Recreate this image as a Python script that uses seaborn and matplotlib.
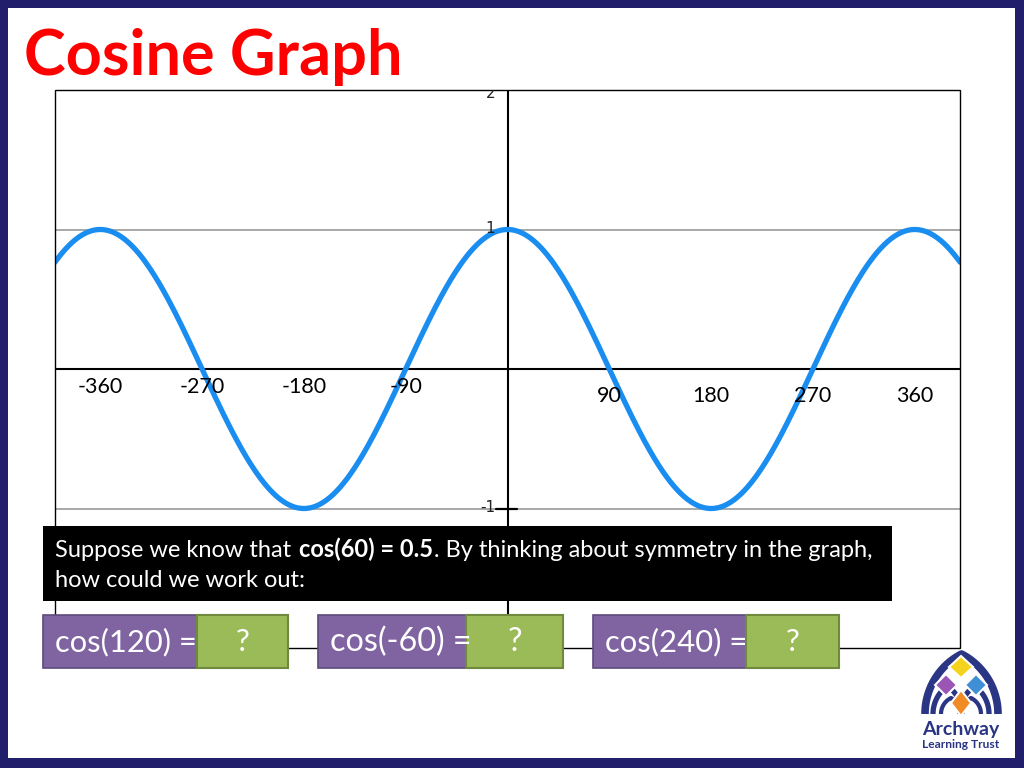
import numpy as np
import pandas as pd
import seaborn as sns
import matplotlib.pyplot as plt
from matplotlib.patches import Rectangle, Polygon

sns.set_theme(style="white")
plt.rcParams['font.family'] = ['Lato', 'DejaVu Sans']

# ---------------- data ----------------
angles = np.arange(-400, 401, 1)            # degrees
cos_values = np.cos(np.radians(angles))    # the cosine curve being graphed
neg_ticks = [-360, -270, -180, -90]
pos_ticks = [90, 180, 270, 360]
y_labels = [2, 1, -1]
title_text = "Cosine Graph"
prompt_plain = "Suppose we know that "
prompt_bold = "cos(60) = 0.5"
prompt_rest = ". By thinking about symmetry in the graph,"
prompt_line2 = "how could we work out:"
questions = ["cos(120) =", "cos(-60) =", "cos(240) ="]
answers = ["?", "?", "?"]

df = pd.DataFrame({"angle": angles, "cos": cos_values})

NAVY = "#211f6b"
W, H = 1024, 768
fig = plt.figure(figsize=(10.24, 7.68), dpi=100, facecolor=NAVY)

# background (white slide inside navy border)
bg = fig.add_axes([0, 0, 1, 1], zorder=0)
bg.set_xlim(0, W); bg.set_ylim(H, 0); bg.axis("off")
bg.add_patch(Rectangle((8, 8), 1007, 750, facecolor="white", edgecolor="none"))

# ---------------- main chart ----------------
L, R, T, B = 55, 960, 90, 648
ax = fig.add_axes([L / W, (H - B) / H, (R - L) / W, (B - T) / H], zorder=1)
ax.set_facecolor("white")
ax.set_xlim(-400, 400)
ax.set_ylim(-2, 2)
for s in ax.spines.values():
    s.set_visible(False)
ax.add_patch(Rectangle((0, 0), 1, 1, transform=ax.transAxes, fill=False,
                       edgecolor="black", lw=1.0, zorder=5, clip_on=False))
ax.set_xticks([]); ax.set_yticks([])

for yv in (1, -1):
    ax.axhline(yv, color="#a8a8a8", lw=1.4, zorder=1)
ax.axhline(0, color="black", lw=1.5, zorder=2)
ax.axvline(0, color="black", lw=1.5, zorder=2)
# small tick at y = -1
ax.plot([-10, 8], [-1, -1], color="black", lw=1.6, zorder=2)

sns.lineplot(data=df, x="angle", y="cos", ax=ax, color="#1a8df0", lw=3.8,
             zorder=4, legend=False)
ax.set_xlabel(""); ax.set_ylabel("")

for t in neg_ticks:
    ax.text(t, -0.13, str(t), ha="center", va="center", fontsize=15.5,
            color="black", zorder=6)
for t in pos_ticks:
    ax.text(t, -0.19, str(t), ha="center", va="center", fontsize=15.5,
            color="black", zorder=6)
for yv in y_labels:
    yy = yv - 0.025 if yv == 2 else yv + 0.01
    ax.text(-11, yy, str(yv), ha="right", va="center", fontsize=11,
            color="#222222", family="DejaVu Sans", clip_on=True, zorder=6)

# ---------------- overlay ----------------
ov = fig.add_axes([0, 0, 1, 1], zorder=3)
ov.set_xlim(0, W); ov.set_ylim(H, 0); ov.axis("off")
ov.patch.set_alpha(0)

renderer = fig.canvas.get_renderer()


def width_of(t):
    return t.get_window_extent(renderer).width


def fit(t, target):
    for _ in range(2):
        t.set_fontsize(t.get_fontsize() * target / width_of(t))


title = ov.text(24, 75, title_text, color="#ff0000", fontsize=40,
                weight="bold", ha="left", va="baseline")
fit(title, 378)

# black prompt box
ov.add_patch(Rectangle((43, 526), 849, 75, facecolor="black", edgecolor="none"))
fs = 14.0
for _ in range(3):
    pieces = []
    x = 55
    for txt, wt in ((prompt_plain, "normal"), (prompt_bold, "bold"), (prompt_rest, "normal")):
        probe = ov.text(0, 0, "|", fontsize=fs, weight=wt)
        probe2 = ov.text(0, 0, txt + "|", fontsize=fs, weight=wt)
        w = width_of(probe2) - width_of(probe)
        probe.remove(); probe2.remove()
        pieces.append((txt, wt, x))
        x += w
    total = x - 55
    fs *= 818 / total
for txt, wt, x in pieces:
    ov.text(x, 557, txt, color="white", fontsize=fs, weight=wt,
            ha="left", va="baseline")
ov.text(55, 587, prompt_line2, color="white", fontsize=fs, ha="left", va="baseline")

# question boxes
purple_boxes = [(43, 199), (318, 470), (593, 748)]
green_boxes = [(197, 288), (466, 563), (746, 839)]
for (p0, p1), (g0, g1), q, a in zip(purple_boxes, green_boxes, questions, answers):
    ov.add_patch(Rectangle((p0, 615), p1 - p0, 53, facecolor="#8064a2",
                           edgecolor="#5e4a7c", lw=1.2))
    ov.add_patch(Rectangle((g0, 615), g1 - g0, 53, facecolor="#9bbb59",
                           edgecolor="#6f8a3c", lw=1.5))
    qt = ov.text(p0 + 12, 642, q, color="white", fontsize=19, ha="left",
                 va="center")
    fit(qt, 142)
    ov.text((g0 + g1) / 2, 642, a, color="white", fontsize=qt.get_fontsize(),
            ha="center", va="center")

# ---------------- logo ----------------
LOGO = "#2a3584"


def gothic(x0, x1, base, apex):
    cx = (x0 + x1) / 2
    h = base - apex
    c = ((cx ** 2 + h ** 2) - x0 ** 2) / (2 * (cx - x0))
    r = c - x0
    ta = np.arccos((cx - c) / r)
    t = np.linspace(np.pi, ta, 40)
    lx = c + r * np.cos(t)
    ly = base - r * np.sin(t)
    rx = 2 * cx - lx[::-1]
    ry = ly[::-1]
    return np.concatenate([lx, rx]), np.concatenate([ly, ry])


for (x0, x1, ap, lw) in [(925, 998, 654, 5.5), (933, 962, 686, 3.8),
                         (960, 989, 686, 3.8), (941, 961, 698, 3.0),
                         (961, 981, 698, 3.0)]:
    xs, ys = gothic(x0, x1, 714, ap)
    ov.plot(xs, ys, color=LOGO, lw=lw, solid_capstyle="butt")


def diamond(cx, cy, hw, hh, col):
    ov.add_patch(Polygon([(cx, cy - hh), (cx + hw, cy), (cx, cy + hh), (cx - hw, cy)],
                         closed=True, facecolor=col, edgecolor="white", lw=1.5, zorder=5))


diamond(961, 667, 12, 11, "#f5d31c")
diamond(946, 685, 11, 11, "#9b55b5")
diamond(976, 685, 11, 11, "#3f8fd6")
diamond(961, 703, 10, 13, "#f08b25")

t1 = ov.text(961, 735, "Archway", color=LOGO, fontsize=14, weight="bold",
             ha="center", va="baseline")
fit(t1, 77)
t2 = ov.text(961, 748, "Learning Trust", color=LOGO, fontsize=8, weight="bold",
             ha="center", va="baseline")
fit(t2, 77)

fig.savefig("out.png", dpi=100, facecolor=NAVY)
